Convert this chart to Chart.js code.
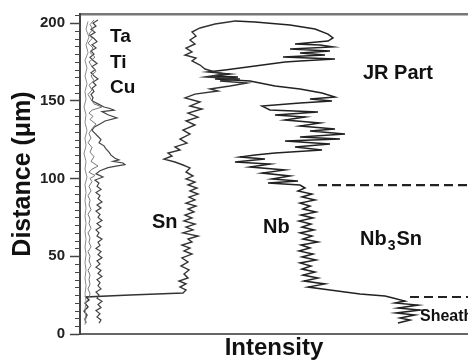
<!DOCTYPE html>
<html>
<head>
<meta charset="utf-8">
<script src="https://cdn.jsdelivr.net/npm/chart.js@4.4.1/dist/chart.umd.min.js"></script>
<style>
html,body{margin:0;padding:0;background:#fff;}
#wrap{width:468px;height:363px;position:relative;}
</style>
</head>
<body>
<div id="wrap"><canvas id="c" width="468" height="363"></canvas></div>
<script>
// ---------- data (distance in µm, intensity in arbitrary units) ----------
const yTickValues = [0, 50, 100, 150, 200];

const taDistance  = [201,196,191,186,181,176,171,166,161,156,151,146,141,136,131,126,121,116,111,106,101,96,91,86,81,76,71,66,61,56,51,46,41,36,31,26,21,16,11,6];
const taIntensity = [8,6,9,6,8,5,7,5,7,5,6,4,6,5,7,5,6,4,6,5,7,5,6,5,6,5,6,5,6,5,6,5,6,5,6,5,6,5,6,5];

const tiDistance  = [202,199,196,193,190,187,184,181,178,175,172,169,166,163,160,157,154,151,148,146,144,142,140,138,135,132,129,126,123,120,117,114,111,108,106,104,102,100,98,95,92,89,86,83,80,77,74,71,68,65,62,59,56,53,50,47,44,41,38,35,32,29,26,23];
const tiIntensity = [14,10,13,9,12,8,13,10,15,9,12,16,11,14,9,12,8,11,14,22,12,9,13,10,16,12,9,11,8,12,10,14,11,18,12,9,15,10,12,9,11,8,10,9,11,8,10,9,11,8,10,9,11,8,10,9,11,8,10,9,10,8,10,9];

const cuDistance  = [202,200,198,196,194,192,190,188,186,184,182,180,178,176,174,172,170,168,166,164,162,160,158,156,154,152,150,148,146,145,144,143,141,139,137,135,133,131,129,127,125,123,121,119,117,115,113,112,111,110,109,108,107,105,103,101,99,97,95,93,91,89,87,85,83,81,79,77,75,73,71,69,67,65,63,61,59,57,55,53,51,49,47,45,43,41,39,37,35,33,31,29,27,25,23,21,19,17,15,13,11,9,7];
const cuIntensity = [18,13,16,11,15,10,14,17,12,16,11,14,10,13,17,12,15,11,14,18,13,16,12,14,11,13,12,18,24,30,34,22,28,37,25,20,14,12,15,18,21,19,24,26,29,31,35,39,33,43,45,36,28,20,16,23,15,19,17,21,16,20,18,22,17,21,16,20,18,22,17,21,16,19,17,22,18,20,16,21,18,22,17,20,16,21,18,22,17,20,18,21,16,19,17,22,18,21,16,20,17,21,19];

const snDistance  = [201.3,199.4,196.8,194.2,191.6,189.1,186.5,183.9,181.4,179.4,177.5,175.6,173.0,170.4,168.5,167.2,165.3,164.0,162.7,161.4,159.5,157.6,156.3,154.3,151.8,149.2,146.6,144.7,142.1,139.5,137.0,134.4,131.2,128.6,125.4,122.8,120.3,118.3,116.4,114.5,112.5,110.6,108.7,106.8,104.2,101.6,99.7,97.7,95.8,93.9,92.0,90.0,88.1,86.2,84.2,82.3,80.4,78.5,76.5,74.6,72.7,70.7,68.8,66.9,65.0,63.0,61.1,59.2,57.2,55.3,53.4,51.4,48.9,46.3,43.7,41.2,38.6,36.0,34.1,32.2,30.2,28.3,26.4,25.1,23.8,21.9,19.9,17.4,14.8,12.2,9.6,7.1];
const snIntensity = [155,135,120,112,116,110,115,106,112,105,116,112,120,125,135,145,125,160,140,167,150,130,138,115,105,120,110,122,108,118,106,115,103,110,100,107,95,100,88,92,84,95,103,110,106,113,106,115,108,117,110,118,109,115,106,116,108,114,105,112,104,115,106,113,103,118,108,112,102,110,104,112,102,108,101,109,104,108,99,106,100,106,103,50,6,9,5,8,4,7,5,6];

const nbDistance  = [201.3,200.6,198.7,196.1,192.9,190.4,188.4,186.5,185.9,184.6,183.3,182.0,180.7,179.4,178.1,176.8,175.6,174.9,172.3,169.8,168.5,167.2,165.9,165.3,164.0,162.7,159.5,157.6,155.0,152.4,151.1,149.8,148.6,146.6,144.1,142.8,140.8,139.5,137.6,135.7,133.8,131.8,130.5,128.6,126.7,125.4,124.1,122.2,120.3,118.3,116.4,115.1,113.8,112.5,110.6,109.3,107.4,105.5,103.5,101.6,99.7,98.4,97.1,95.8,93.9,92.0,90.0,88.1,86.2,84.2,82.3,80.4,78.5,76.5,74.6,72.7,70.7,68.8,66.9,65.0,63.0,61.1,59.2,57.2,55.3,53.4,51.4,49.5,47.6,45.7,43.7,41.8,39.9,37.9,36.0,34.1,32.2,30.2,28.3,27.0,25.7,24.4,23.2,21.2,19.9,18.6,16.7,15.4,13.5,12.2,10.3,9.0,7.1];
const nbIntensity = [155,175,210,235,248,253,248,215,240,253,210,250,220,245,203,255,220,205,175,145,128,150,132,158,135,170,195,220,242,255,230,252,220,182,190,238,195,225,205,240,220,255,230,265,220,260,205,250,215,242,195,175,160,185,155,190,170,205,182,210,192,218,188,220,225,218,232,222,235,220,230,223,236,221,233,219,231,222,234,220,232,223,238,221,230,219,233,222,236,220,231,222,235,223,238,224,245,228,250,265,280,305,313,325,315,338,318,340,316,335,320,330,318];

// boundaries (dashed lines): distance and starting intensity
const boundaryDistance = [95.8, 23.8];
const boundaryStart    = [238, 330];

// region labels
const regionLabels   = ['Ta', 'Ti', 'Cu', 'Sn', 'Nb', 'Nb3Sn', 'JR Part', 'Sheath'];
const labelIntensity = [30, 30, 30, 72, 183, 280, 283, 340];
const labelDistance  = [191, 174.3, 158.2, 71.4, 68.2, 60.5, 167.8, 10.9];

// ---------- chart ----------
const FONT = '"Liberation Sans", Arial, Helvetica, sans-serif';
const X_MAX = 388, Y_MAX = 205.8;

function zip(ds, is) { return ds.map((d, i) => ({ x: is[i], y: d })); }
function lineSet(label, ds, is, color, w) {
  return { label, data: zip(ds, is), borderColor: color, borderWidth: w, pointRadius: 0, showLine: true, tension: 0, fill: false };
}

const datasets = [
  lineSet('Ta', taDistance, taIntensity, '#8a8a8a', 1),
  lineSet('Ti', tiDistance, tiIntensity, '#777', 1),
  lineSet('Cu', cuDistance, cuIntensity, '#444', 1.2),
  lineSet('Sn', snDistance, snIntensity, '#333', 1.4),
  lineSet('Nb', nbDistance, nbIntensity, '#222', 1.5)
];
boundaryDistance.forEach((d, i) => {
  datasets.push({ label: 'boundary' + i, data: [{ x: boundaryStart[i], y: d }, { x: X_MAX, y: d }],
    borderColor: '#222', borderWidth: 2.2, borderDash: [9, 5], pointRadius: 0, showLine: true, fill: false });
});

const decor = {
  id: 'decor',
  afterDraw(chart) {
    const { ctx, scales: { x, y } } = chart;
    ctx.save();
    // minor ticks
    ctx.strokeStyle = '#444';
    ctx.lineWidth = 1;
    for (let v = 5; v < Y_MAX; v += 5) {
      if (v % 50 === 0) continue;
      const py = Math.round(y.getPixelForValue(v)) + 0.5;
      ctx.beginPath(); ctx.moveTo(x.left - 5, py); ctx.lineTo(x.left, py); ctx.stroke();
    }
    // labels
    ctx.fillStyle = '#111';
    ctx.textBaseline = 'middle';
    ctx.textAlign = 'left';
    regionLabels.forEach((t, i) => {
      const px = x.getPixelForValue(labelIntensity[i]);
      const py = y.getPixelForValue(labelDistance[i]);
      if (t === 'Nb3Sn') {
        ctx.font = 'bold 20px ' + FONT;
        ctx.fillText('Nb', px, py);
        let w = ctx.measureText('Nb').width;
        ctx.font = 'bold 14px ' + FONT;
        ctx.fillText('3', px + w + 1, py + 6);
        w += ctx.measureText('3').width + 2;
        ctx.font = 'bold 20px ' + FONT;
        ctx.fillText('Sn', px + w, py);
      } else {
        const size = (t === 'Sheath') ? 16 : (i < 3 ? 19 : 20);
        ctx.font = 'bold ' + size + 'px ' + FONT;
        ctx.fillText(t, px, py);
      }
    });
    ctx.restore();
  }
};

new Chart(document.getElementById('c'), {
  type: 'scatter',
  data: { datasets },
  options: {
    responsive: false,
    animation: false,
    devicePixelRatio: 1,
    layout: { padding: { top: 14, left: 0, right: 0, bottom: 0 } },
    plugins: { legend: { display: false }, tooltip: { enabled: false } },
    scales: {
      x: {
        type: 'linear', position: 'bottom', min: 0, max: X_MAX,
        afterFit: s => { s.height = 29; },
        ticks: { display: false },
        grid: { display: false, drawTicks: false },
        border: { color: '#666', width: 2 },
        title: { display: true, text: 'Intensity', color: '#111', font: { family: FONT, size: 24, weight: 'bold' }, padding: 0 }
      },
      xTop: {
        type: 'linear', axis: 'x', position: 'top', min: 0, max: X_MAX,
        afterFit: s => { s.height = 0; },
        ticks: { display: false },
        grid: { display: false, drawTicks: false },
        border: { color: '#777', width: 2.5 }
      },
      y: {
        type: 'linear', position: 'left', min: 0, max: Y_MAX,
        afterBuildTicks: s => { s.ticks = yTickValues.map(v => ({ value: v })); },
        afterFit: s => { s.width = 80; },
        ticks: { color: '#222', font: { family: FONT, size: 15, weight: 'bold' }, padding: 5 },
        grid: { drawOnChartArea: false, tickLength: 10, tickColor: '#444', tickWidth: 1.5 },
        border: { color: '#444', width: 2 },
        title: { display: true, text: 'Distance (μm)', color: '#111', font: { family: FONT, size: 25, weight: 'bold' }, padding: { top: 8, bottom: 0 } }
      }
    }
  },
  plugins: [decor]
});
</script>
</body>
</html>
